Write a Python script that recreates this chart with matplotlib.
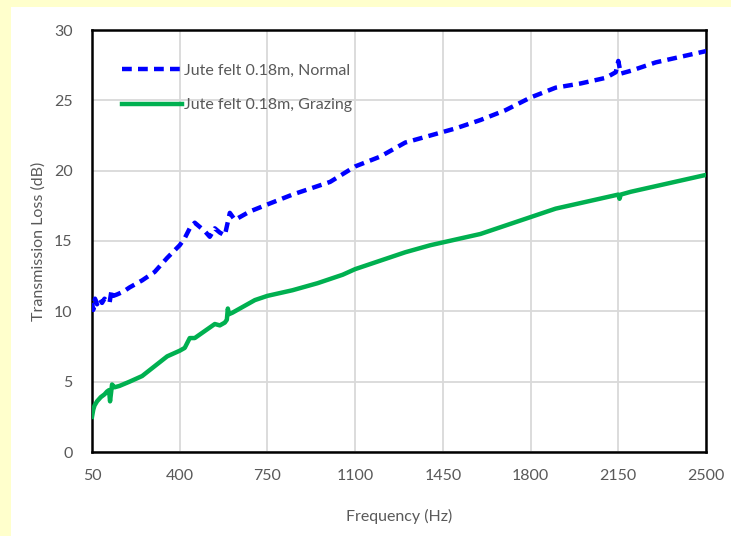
import matplotlib
matplotlib.use("Agg")
import matplotlib.pyplot as plt
from matplotlib.patches import Rectangle

# Frequency (Hz) and transmission loss (dB)
freq_normal = [50, 55, 62, 70, 80, 90, 100, 110, 120, 128, 135, 150, 175, 200,
               250, 300, 350, 400, 420, 440, 460, 480, 500, 520, 540, 560, 580,
               590, 600, 620, 680, 750, 850, 950, 1000, 1100, 1200, 1300, 1400,
               1500, 1600, 1700, 1800, 1900, 2000, 2100, 2140, 2150, 2160, 2200,
               2300, 2400, 2500]
tl_normal = [10.6, 10.1, 10.9, 10.5, 10.9, 10.6, 10.9, 10.7, 10.6, 11.5, 11.1,
             11.2, 11.4, 11.7, 12.2, 12.8, 13.8, 14.7, 15.2, 15.9, 16.3, 16.0,
             15.7, 15.3, 15.9, 15.6, 15.4, 16.2, 17.0, 16.5, 17.1, 17.6, 18.3,
             18.9, 19.2, 20.3, 21.0, 22.0, 22.5, 23.0, 23.6, 24.3, 25.2, 25.9,
             26.2, 26.6, 27.0, 27.8, 26.9, 27.1, 27.7, 28.1, 28.5]

freq_grazing = [50, 55, 60, 70, 85, 100, 110, 118, 122, 126, 130, 140, 160, 200,
                250, 300, 350, 400, 420, 440, 460, 500, 540, 560, 580, 588, 592,
                597, 610, 650, 700, 750, 850, 950, 1050, 1100, 1150, 1200, 1300,
                1400, 1500, 1600, 1700, 1800, 1900, 2000, 2100, 2150, 2155, 2160,
                2200, 2300, 2400, 2500]
tl_grazing = [2.5, 3.0, 3.3, 3.6, 3.9, 4.1, 4.3, 4.4, 3.6, 4.2, 4.8, 4.6, 4.7,
              5.0, 5.4, 6.1, 6.8, 7.2, 7.4, 8.1, 8.1, 8.6, 9.1, 9.0, 9.2, 9.4,
              10.2, 9.8, 9.9, 10.3, 10.8, 11.1, 11.5, 12.0, 12.6, 13.0, 13.3,
              13.6, 14.2, 14.7, 15.1, 15.5, 16.1, 16.7, 17.3, 17.7, 18.1, 18.3,
              18.0, 18.3, 18.5, 18.9, 19.3, 19.7]

x_ticks = [50, 400, 750, 1100, 1450, 1800, 2150, 2500]
y_ticks = [0, 5, 10, 15, 20, 25, 30]

BLUE = "#0000ff"
GREEN = "#00b050"
TEXT = "#595959"

plt.rcParams["font.family"] = ["Lato", "DejaVu Sans"]

fig = plt.figure(figsize=(7.31, 5.36), dpi=100, facecolor="#ffffcc")
# white chart area on the yellow page, kept behind the axes
fig.patches.append(Rectangle((11 / 731, 0), 1, 1 - 7 / 536,
                             transform=fig.transFigure, facecolor="white",
                             edgecolor="none", zorder=-10))

ax = fig.add_axes([92 / 731, 1 - 452 / 536, 614 / 731, 422 / 536])
ax.plot(freq_normal, tl_normal, color=BLUE, lw=3.2, ls=(0, (2.2, 1.4)),
        label="Jute felt 0.18m, Normal", zorder=3)
ax.plot(freq_grazing, tl_grazing, color=GREEN, lw=3.2,
        label="Jute felt 0.18m, Grazing", zorder=3)

ax.set_xlim(50, 2500)
ax.set_ylim(0, 30)
ax.set_xticks(x_ticks)
ax.set_yticks(y_ticks)
ax.grid(True, color="#d9d9d9", lw=1.3)
ax.set_axisbelow(True)
for s in ax.spines.values():
    s.set_color("black")
    s.set_linewidth(1.8)
ax.tick_params(length=0, labelsize=11.5, colors=TEXT, pad=12)
ax.tick_params(axis="y", pad=14)
ax.set_xlabel("Frequency (Hz)", fontsize=11.5, color=TEXT, labelpad=19)
ax.set_ylabel("Transmission Loss (dB)", fontsize=11.5, color=TEXT,
              labelpad=6)

leg = ax.legend(loc="upper left", frameon=False, fontsize=11.5,
                handlelength=3.8, handletextpad=0.1, labelspacing=1.3,
                bbox_to_anchor=(0.025, 0.955))
for t in leg.get_texts():
    t.set_color(TEXT)

fig.savefig("out.png", dpi=100, facecolor=fig.get_facecolor())
